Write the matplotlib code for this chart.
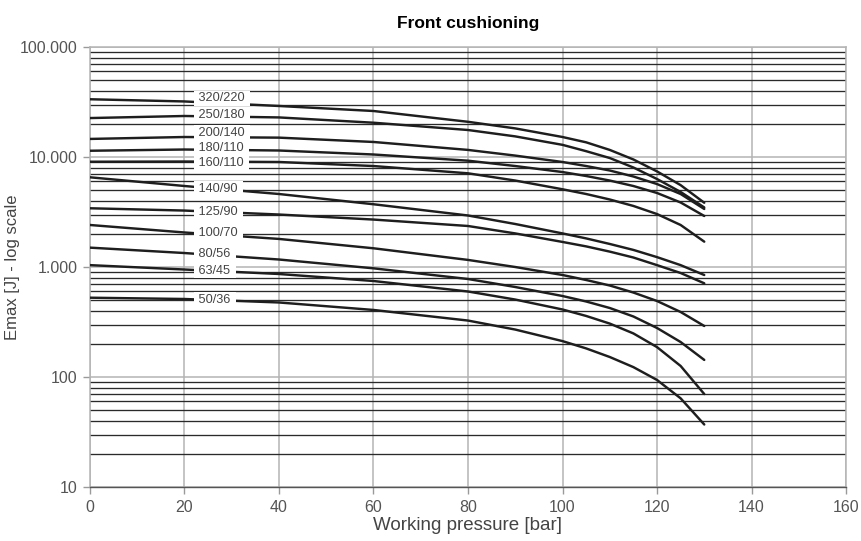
import matplotlib
matplotlib.use("Agg")
import matplotlib.pyplot as plt
from matplotlib.ticker import FixedLocator, FuncFormatter, NullFormatter

plt.rcParams['font.family'] = ['Liberation Sans', 'DejaVu Sans']

# working pressure [bar] where the curves were read
pressure = [0, 20, 40, 60, 80, 90, 100, 105, 110, 115, 120, 125, 130]

# Emax [J] for each cylinder size (bore/rod)
e_320_220 = [33500, 32000, 29100, 26200, 20900, 18200, 15200, 13600, 11600, 9500, 7400, 5550, 3840]
e_250_180 = [22600, 23600, 22900, 20500, 17600, 15400, 12900, 11300, 9790, 8030, 6310, 4810, 3480]
e_200_140 = [14600, 15200, 15000, 13700, 11600, 10300, 9010, 8280, 7540, 6650, 5680, 4610, 3370]
e_180_110 = [11400, 11700, 11460, 10540, 9260, 8280, 7300, 6720, 6110, 5450, 4710, 3860, 2910]
e_160_110 = [9060, 9100, 9010, 8280, 7110, 6110, 5090, 4610, 4110, 3590, 3030, 2410, 1700]
e_140_90 = [6540, 5450, 4610, 3720, 2940, 2460, 2020, 1820, 1620, 1430, 1230, 1040, 846]
e_125_90 = [3420, 3260, 3000, 2700, 2360, 2020, 1690, 1540, 1380, 1220, 1040, 882, 711]
e_100_70 = [2410, 2060, 1800, 1480, 1160, 1000, 846, 762, 679, 586, 491, 390, 291]
e_80_56 = [1500, 1340, 1170, 973, 778, 658, 545, 486, 424, 355, 279, 208, 143]
e_63_45 = [1040, 949, 864, 746, 599, 506, 411, 359, 306, 249, 187, 126, 70]
e_50_36 = [526, 512, 476, 407, 326, 270, 212, 182, 152, 123, 94, 64, 37]

series = [e_320_220, e_250_180, e_200_140, e_180_110, e_160_110, e_140_90,
          e_125_90, e_100_70, e_80_56, e_63_45, e_50_36]
labels = ['320/220', '250/180', '200/140', '180/110', '160/110', '140/90',
          '125/90', '100/70', '80/56', '63/45', '50/36']
# where the size labels sit (x in bar, y in J)
label_x = 22.3
label_y = [34200, 24100, 16630, 12150, 8760, 5120, 3180, 2025, 1313, 925, 501]

x_ticks = [0, 20, 40, 60, 80, 100, 120, 140, 160]
y_major = [10, 100, 1000, 10000, 100000]
y_minor = [m * 10 ** k for k in range(1, 5) for m in range(2, 10)]

fig = plt.figure(figsize=(8.61, 5.41), dpi=100)
ax = fig.add_axes([0.1045, 0.0998, 0.8781, 0.8133])

ax.set_yscale('log')
ax.set_xlim(0, 160)
ax.set_ylim(10, 100000)

# siatka: pionowe i główne poziome szare, pomocnicze poziome ciemne
ax.xaxis.set_major_locator(FixedLocator(x_ticks))
ax.yaxis.set_major_locator(FixedLocator(y_major))
ax.yaxis.set_minor_locator(FixedLocator(y_minor))
ax.yaxis.set_minor_formatter(NullFormatter())
ax.yaxis.set_major_formatter(FuncFormatter(lambda v, p: f"{int(round(v)):,}".replace(',', '.')))
ax.grid(True, which='major', axis='x', color='#b4b4b4', linewidth=1.1, zorder=0)
ax.grid(True, which='major', axis='y', color='#b4b4b4', linewidth=1.1, zorder=0)
ax.grid(True, which='minor', axis='y', color='#2a2a2a', linewidth=0.95, zorder=0)
ax.set_axisbelow(True)

for s in ['left', 'top', 'right']:
    ax.spines[s].set_color('#b4b4b4')
    ax.spines[s].set_linewidth(1.1)
ax.spines['bottom'].set_color('#555555')
ax.spines['bottom'].set_linewidth(1.0)

ax.tick_params(axis='both', which='major', direction='out', length=5, width=1,
               color='#9a9a9a', labelcolor='#555555', labelsize=11.5, pad=4)
ax.tick_params(axis='y', which='minor', length=0)

for vals in series:
    ax.plot(pressure, vals, color='#1e1e1e', linewidth=1.75, solid_capstyle='round',
            solid_joinstyle='round', zorder=3)

for lab, ly in zip(labels, label_y):
    ax.text(label_x, ly, ' ' + lab + ' ', ha='left', va='center', fontsize=9.2,
            color='#444444', zorder=5,
            bbox=dict(facecolor='white', edgecolor='none', boxstyle='square,pad=0.12'))

ax.set_title('Front cushioning', fontsize=12.5, fontweight='bold', pad=14)
ax.set_xlabel('Working pressure [bar]', fontsize=13.5, color='#444444', labelpad=2)
ax.set_ylabel('Emax [J] - log scale', fontsize=12, color='#444444')
ax.yaxis.set_label_coords(-0.092, 0.5)

fig.savefig('out.png', dpi=100)
